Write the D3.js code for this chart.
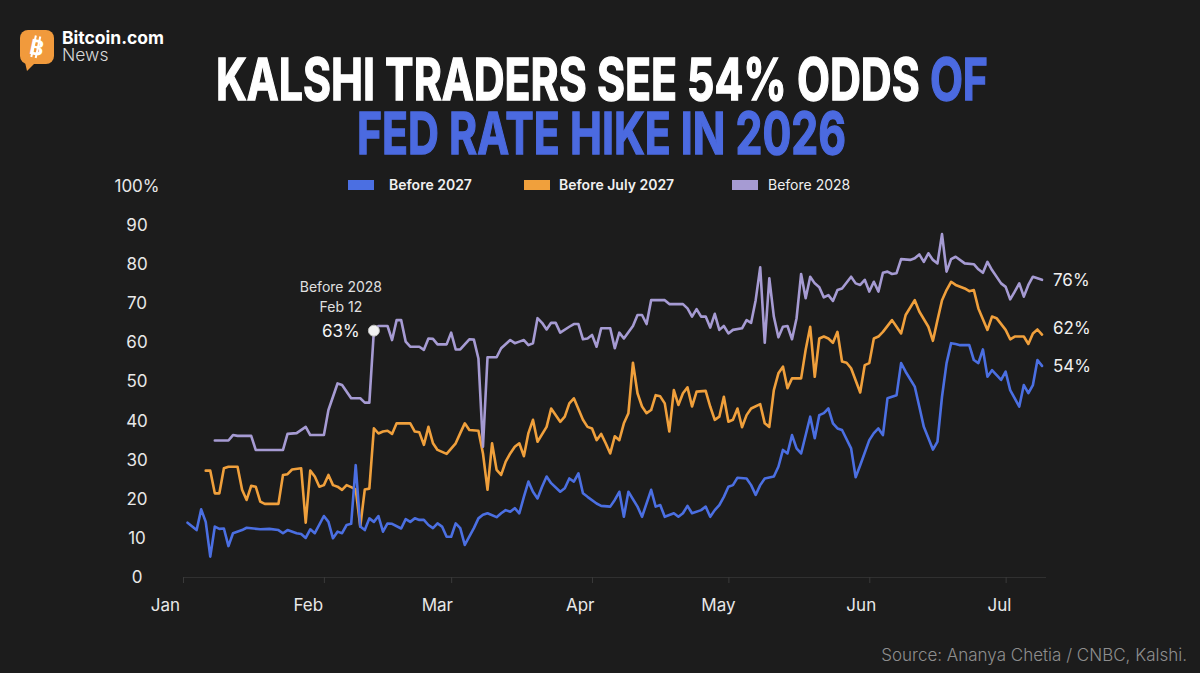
<!DOCTYPE html>
<html>
<head>
<meta charset="utf-8">
<script src="https://cdn.jsdelivr.net/npm/d3@7"></script>
<style>
  html, body { margin: 0; padding: 0; background: #1c1c1c; }
  svg { display: block; }
  text { font-family: Inter, "Noto Sans", sans-serif; }
</style>
</head>
<body>
<div id="chart"></div>
<script>
// each point: [days after Jan 1 2026, odds in %]
const before2027 = [
  [1,13.9],[3,12.0],[4,17.3],[5,14.1],[6,5.2],[7,12.9],[8,12.3],[9,12.4],[10,7.9],[11,11.2],
  [13,12.0],[14,12.6],[17,12.2],[19,12.3],[21,12.0],[22,11.2],[23,12.0],[25,11.2],[26,11.0],[27,10.0],
  [28,12.2],[29,11.2],[31,15.6],[32,14.1],[33,9.9],[34,11.6],[35,11.2],[36,13.3],[37,13.6],[38,28.6],
  [39,12.9],[40,12.0],[41,15.0],[42,14.1],[43,15.6],[44,11.6],[45,13.7],[46,13.6],[48,12.4],[49,14.8],
  [50,14.1],[51,15.0],[52,14.6],[53,14.6],[54,13.3],[55,12.5],[56,13.7],[57,12.9],[58,10.3],[59,10.3],
  [60,13.7],[61,12.5],[62,8.2],[64,12.5],[65,15.0],[66,15.9],[67,16.3],[69,15.3],[70,16.3],[71,17.1],
  [72,16.7],[73,17.6],[74,16.3],[75,20.5],[76,24.4],[77,21.8],[78,20.1],[79,23.1],[80,25.7],[81,24.0],
  [83,21.8],[84,22.7],[85,25.2],[86,24.4],[87,26.5],[88,21.4],[89,20.5],[91,18.8],[92,18.2],[94,18.0],
  [95,19.7],[96,21.8],[97,15.4],[98,21.8],[100,18.0],[101,15.4],[103,22.3],[104,18.0],[105,18.4],[106,15.4],
  [108,16.3],[109,15.4],[110,16.3],[111,18.2],[112,16.3],[114,17.1],[115,18.0],[116,15.4],[117,17.1],[118,18.4],
  [119,20.5],[120,23.1],[121,23.5],[122,25.4],[124,25.2],[125,23.5],[126,21.0],[127,23.5],[128,25.2],[130,25.7],
  [131,28.2],[132,32.5],[133,31.6],[134,36.3],[135,32.9],[136,31.6],[138,41.0],[139,35.5],[140,41.4],[141,41.9],
  [142,43.1],[143,39.3],[144,38.0],[145,37.6],[147,32.9],[148,25.5],[149,28.6],[151,35.0],[152,36.8],[153,38.0],
  [154,36.3],[155,45.7],[156,46.1],[157,46.5],[158,54.7],[159,52.5],[161,48.7],[162,43.6],[163,38.4],[165,32.6],
  [166,34.6],[167,46.1],[168,54.7],[169,59.8],[170,59.6],[171,59.3],[173,59.3],[174,55.5],[175,54.7],[176,58.2],
  [177,51.2],[178,52.9],[180,50.4],[181,52.5],[182,47.8],[184,43.6],[185,49.1],[186,47.0],[187,49.1],[188,55.5],
  [189,54]
];

const beforeJuly2027 = [
  [5,27.2],[6,27.2],[7,21.4],[8,21.4],[9,27.8],[10,28.2],[12,28.2],[13,22.3],[14,19.7],[15,23.3],
  [16,23.1],[17,19.3],[18,18.7],[21,18.7],[22,26.1],[23,26.3],[24,27.5],[26,27.8],[27,13.9],[28,27.2],
  [29,25.7],[30,23.1],[31,23.5],[32,26.1],[33,23.5],[34,23.1],[35,22.3],[36,23.5],[37,23.0],[38,22.4],
  [39,12.9],[40,22.4],[41,22.6],[42,38.0],[43,36.7],[44,37.2],[45,37.4],[46,36.6],[47,39.3],[49,39.3],
  [50,39.3],[51,37.2],[52,37.0],[53,33.8],[54,38.4],[55,34.2],[56,32.5],[58,31.5],[60,34.2],[61,36.8],
  [62,39.3],[63,37.6],[65,37.4],[66,31.6],[67,22.3],[68,34.2],[69,27.4],[70,26.1],[71,29.5],[72,31.6],
  [73,33.3],[74,34.2],[75,30.9],[76,36.8],[77,40.2],[78,34.6],[80,38.4],[81,43.1],[83,39.7],[84,41.0],
  [85,44.4],[86,45.7],[88,40.2],[89,38.4],[90,38.0],[91,35.0],[92,36.6],[93,34.2],[94,31.6],[95,36.0],
  [96,35.0],[97,39.3],[98,41.9],[99,54.8],[100,47.0],[101,43.6],[102,41.9],[103,42.7],[104,46.5],[105,46.2],
  [106,44.4],[107,37.2],[108,47.8],[109,44.0],[110,47.0],[111,48.5],[112,43.6],[113,47.4],[115,47.6],[116,43.6],
  [117,40.2],[118,41.0],[119,46.1],[120,39.7],[121,40.2],[122,43.1],[123,38.3],[124,41.4],[125,43.1],[127,44.2],
  [128,39.3],[129,38.4],[130,47.8],[131,52.1],[132,53.8],[133,48.3],[134,50.8],[136,50.8],[137,58.1],[138,64.0],
  [139,51.2],[140,61.0],[141,61.5],[142,61.0],[143,59.9],[144,62.7],[145,55.1],[146,54.8],[147,53.4],[149,47.2],
  [150,54.2],[151,54.7],[152,61.0],[153,61.5],[154,62.7],[156,65.7],[157,64.0],[158,62.3],[159,67.0],[161,70.8],
  [162,67.9],[164,64.0],[165,60.4],[166,65.7],[167,70.8],[168,73.4],[169,75.5],[170,74.7],[172,73.8],[173,73.1],
  [174,73.4],[175,68.7],[177,63.2],[178,66.6],[179,66.2],[181,63.2],[182,60.8],[183,61.5],[185,61.5],[186,59.6],
  [187,62.3],[188,63.3],[189,62]
];

const before2028 = [
  [7,34.9],[10,34.9],[11,36.3],[12,36.1],[15,36.1],[16,32.5],[22,32.5],[23,36.6],[25,36.8],[27,38.4],
  [28,36.3],[31,36.3],[32,42.7],[34,49.5],[35,49.1],[37,45.7],[39,45.7],[40,44.6],[41,44.6],[42,63.0],
  [43,64.2],[45,64.2],[46,60.6],[47,65.7],[48,65.7],[49,60.2],[50,58.9],[52,58.9],[53,58.1],[54,61.0],
  [55,60.9],[56,59.5],[58,59.5],[59,62.5],[60,58.2],[61,58.2],[63,60.8],[64,60.7],[65,55.9],[66,33.3],
  [67,56.2],[69,56.2],[70,58.5],[72,60.6],[73,59.8],[74,60.2],[75,60.6],[76,59.3],[77,59.8],[78,66.2],
  [79,65.0],[80,63.3],[81,65.0],[82,65.0],[83,62.5],[85,64.0],[86,64.7],[87,64.7],[88,60.8],[89,61.0],
  [90,61.9],[91,58.9],[92,63.6],[94,63.6],[95,58.5],[96,62.5],[97,61.0],[99,64.2],[100,67.0],[101,67.0],
  [102,64.7],[103,70.8],[106,70.8],[107,69.8],[110,69.8],[111,68.7],[112,66.6],[113,68.5],[114,66.6],[115,66.6],
  [116,63.8],[117,67.3],[118,63.2],[119,64.2],[120,62.3],[121,63.2],[123,63.6],[124,65.7],[125,65.0],[126,70.8],
  [127,79.2],[128,59.9],[129,76.4],[130,66.6],[131,61.3],[132,64.0],[133,64.2],[134,60.8],[135,66.2],[136,77.5],
  [137,71.3],[138,76.8],[139,75.1],[140,74.1],[141,71.5],[142,72.1],[143,70.6],[144,73.4],[145,73.8],[147,76.8],
  [148,75.1],[149,74.7],[150,76.0],[151,73.0],[152,75.5],[153,73.0],[154,77.8],[155,78.1],[156,77.5],[157,77.7],
  [158,81.3],[160,81.1],[161,81.5],[162,82.5],[163,80.6],[164,82.8],[165,81.1],[166,80.2],[167,87.7],[168,78.1],
  [169,81.3],[170,81.9],[172,80.2],[174,80.0],[175,78.7],[176,77.8],[177,80.6],[178,78.5],[180,75.1],[181,74.2],
  [182,71.0],[183,73.0],[184,75.1],[185,71.7],[186,74.7],[187,76.8],[189,76]
];

const seriesNames = ["Before 2027", "Before July 2027", "Before 2028"];
const seriesColors = ["#4b6fe2", "#f0a03c", "#a69bd3"];
const yTicks = [0, 10, 20, 30, 40, 50, 60, 70, 80, 90, 100];
const annotation = { series: "Before 2028", day: 42, text: ["Before 2028", "Feb 12", "63%"] };
const titleLine1 = "KALSHI TRADERS SEE 54% ODDS ";
const titleLine1Blue = "OF";
const titleLine2 = "FED RATE HIKE IN 2026";
const source = "Source: Ananya Chetia / CNBC, Kalshi.";

const width = 1200;
const height = 673;
const start = new Date(2026, 0, 1);
const toDate = d => d3.timeDay.offset(start, d);
const titleFont = "'Liberation Sans Narrow', 'DejaVu Sans Condensed', sans-serif";

const svg = d3.select("#chart")
    .append("svg")
    .attr("width", width)
    .attr("height", height)
    .attr("viewBox", [0, 0, width, height]);

svg.append("rect").attr("width", width).attr("height", height).attr("fill", "#1c1c1c");

// logo
const logo = svg.append("g");
logo.append("rect")
    .attr("x", 20).attr("y", 30).attr("width", 34).attr("height", 34).attr("rx", 8)
    .attr("fill", "#f19a3c");
logo.append("path")
    .attr("d", "M24,58 L27,71 L36,62 Z")
    .attr("fill", "#f19a3c");
const coin = logo.append("g").attr("transform", "rotate(12,37,47)");
coin.append("text")
    .attr("x", 37).attr("y", 55)
    .attr("text-anchor", "middle")
    .attr("font-family", "DejaVu Sans")
    .attr("font-weight", 700)
    .attr("font-size", 21)
    .attr("fill", "#fff")
    .text("B");
coin.selectAll("line")
    .data([33.5, 38])
    .join("line")
        .attr("x1", d => d).attr("x2", d => d)
        .attr("y1", 36).attr("y2", 58)
        .attr("stroke", "#fff").attr("stroke-width", 2);
logo.append("text")
    .attr("x", 62).attr("y", 44)
    .attr("font-size", 17.5).attr("font-weight", 700).attr("fill", "#fff")
    .text("Bitcoin.com");
logo.append("text")
    .attr("x", 62).attr("y", 61)
    .attr("font-size", 17.5).attr("font-weight", 300).attr("fill", "#d8d8d8")
    .text("News");

// title
const title1 = svg.append("text")
    .attr("x", 216).attr("y", 100)
    .attr("textLength", 772).attr("lengthAdjust", "spacingAndGlyphs")
    .attr("font-family", titleFont)
    .attr("font-weight", 700).attr("font-size", 58)
    .attr("fill", "#fff").attr("stroke", "#fff").attr("stroke-width", 1.4);
title1.append("tspan").text(titleLine1);
title1.append("tspan").attr("fill", "#4b6ae0").attr("stroke", "#4b6ae0").text(titleLine1Blue);
svg.append("text")
    .attr("x", 357).attr("y", 154)
    .attr("textLength", 489).attr("lengthAdjust", "spacingAndGlyphs")
    .attr("font-family", titleFont)
    .attr("font-weight", 700).attr("font-size", 58)
    .attr("fill", "#4b6ae0").attr("stroke", "#4b6ae0").attr("stroke-width", 1.4)
    .text(titleLine2);

// legend
const legendX = [348, 524, 732];
const legendWeight = [600, 600, 400];
const legend = svg.append("g")
    .selectAll("g")
    .data(seriesNames)
    .join("g")
        .attr("transform", (d, i) => `translate(${legendX[i]},180)`);
legend.append("rect")
    .attr("width", 26).attr("height", 10)
    .attr("fill", (d, i) => seriesColors[i]);
legend.append("text")
    .attr("x", (d, i) => i === 0 ? 41 : i === 1 ? 35 : 36)
    .attr("y", 10)
    .attr("font-size", 14)
    .attr("font-weight", (d, i) => legendWeight[i])
    .attr("fill", "#f0f0f0")
    .text(d => d);

// scales
const x = d3.scaleTime()
    .domain([start, toDate(189)])
    .range([183, 1042]);

const y = d3.scaleLinear()
    .domain([0, 100])
    .range([577, 186]);

// month labels sit a little left of the month-start ticks
const labelX = d3.scaleTime()
    .domain([start, new Date(2026, 6, 1)])
    .range([165, 999]);

function xAxis(g) {
    g.attr("transform", `translate(0,${y(0)})`)
        .call(d3.axisBottom(x)
            .tickValues(d3.timeMonth.range(start, new Date(2026, 6, 2)))
            .tickFormat(d3.timeFormat("%b"))
            .tickSizeOuter(0)
            .tickSize(6)
            .tickPadding(16))
        .attr("font-size", 17)
        .attr("font-family", "Inter, sans-serif");
    g.select(".domain").attr("stroke", "#303030").attr("d", "M183,0.5H1046");
    g.selectAll(".tick line").attr("stroke", "#3a3a3a");
    g.selectAll(".tick text")
        .attr("fill", "#e8e8e8")
        .attr("dx", d => labelX(d) - x(d));
}

function yAxis(g) {
    g.attr("transform", "translate(137,0)")
        .call(d3.axisLeft(y)
            .tickValues(yTicks)
            .tickSize(0)
            .tickPadding(0)
            .tickFormat(d => d === 100 ? "100%" : d))
        .attr("font-size", 17)
        .attr("font-family", "Inter, sans-serif");
    g.select(".domain").remove();
    g.selectAll(".tick text")
        .attr("text-anchor", "middle")
        .attr("x", 0)
        .attr("fill", "#e8e8e8");
}

svg.append("g").call(yAxis);
svg.append("g").call(xAxis);

// lines
const series = [before2027, beforeJuly2027, before2028];
const line = d3.line()
    .x(d => x(toDate(d[0])))
    .y(d => y(d[1]));

const drawOrder = [1, 2, 0];
svg.append("g")
    .attr("fill", "none")
    .attr("stroke-width", 2.6)
    .attr("stroke-linejoin", "round")
    .attr("stroke-linecap", "round")
    .selectAll("path")
    .data(drawOrder)
    .join("path")
        .attr("stroke", i => seriesColors[i])
        .attr("d", i => line(series[i]));

// end labels (the middle one is nudged up a little)
const endNudge = [0, -7, 0];
svg.append("g")
    .selectAll("text")
    .data(series)
    .join("text")
        .attr("x", d => x(toDate(d[d.length - 1][0])) + 11)
        .attr("y", (d, i) => y(d[d.length - 1][1]) + 6 + endNudge[i])
        .attr("font-size", 17)
        .attr("fill", "#f0f0f0")
        .text(d => d[d.length - 1][1] + "%");

// annotation on Before 2028
const annSeries = series[seriesNames.indexOf(annotation.series)];
const annPoint = annSeries.find(d => d[0] === annotation.day);
const ax = x(toDate(annPoint[0]));
const ay = y(annPoint[1]);
svg.append("circle")
    .attr("cx", ax).attr("cy", ay).attr("r", 5.5)
    .attr("fill", "#f2f2f2")
    .attr("stroke", "#bdbdbd").attr("stroke-width", 1);
const ann = svg.append("g")
    .attr("text-anchor", "middle")
    .attr("fill", "#e0e0e0");
ann.append("text").attr("x", ax - 33).attr("y", ay - 39).attr("font-size", 14).text(annotation.text[0]);
ann.append("text").attr("x", ax - 33).attr("y", ay - 19).attr("font-size", 14).text(annotation.text[1]);
ann.append("text").attr("x", ax - 33).attr("y", ay + 6).attr("font-size", 17).attr("fill", "#f5f5f5").text(annotation.text[2]);

// source
svg.append("text")
    .attr("x", 1187).attr("y", 661)
    .attr("text-anchor", "end")
    .attr("font-size", 17)
    .attr("font-weight", 300)
    .attr("fill", "#8e8e8e")
    .text(source);
</script>
</body>
</html>
